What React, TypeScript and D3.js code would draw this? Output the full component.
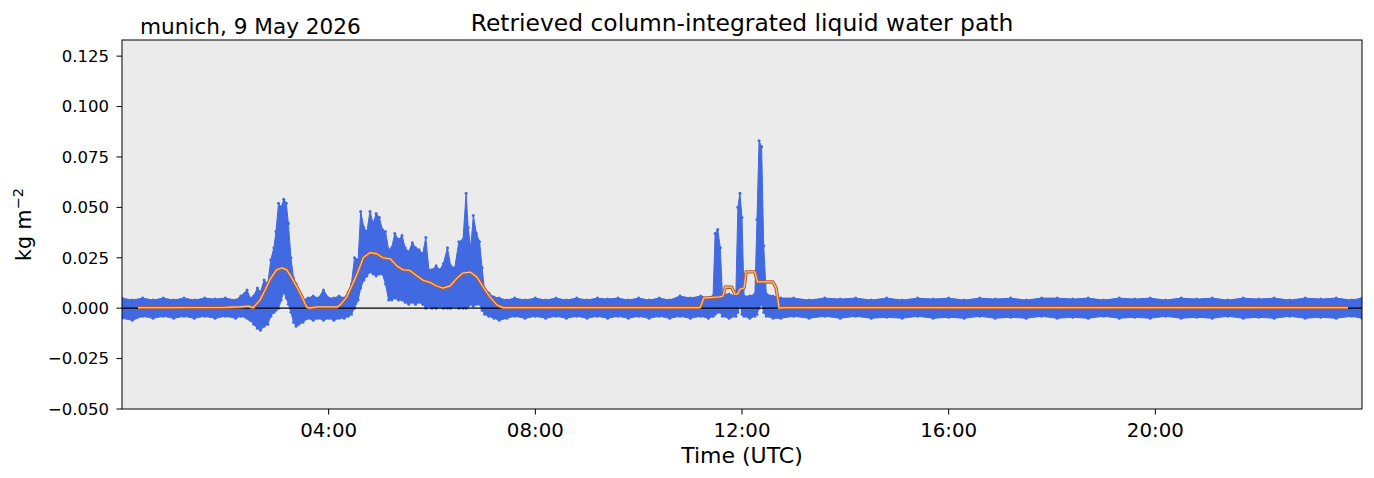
import React from 'react';
import * as d3 from 'd3';

const obsTime = [
  0.0, 0.2, 0.4, 0.6, 0.8, 1.0, 1.2, 1.4, 1.6, 1.8, 2.0, 2.2, 2.3, 2.42, 2.48, 2.55, 2.62, 2.68, 2.75, 2.82,
  2.88, 2.94, 2.98, 3.03, 3.08, 3.13, 3.18, 3.22, 3.27, 3.32, 3.37, 3.42, 3.5, 3.6, 3.7, 3.8, 3.9, 4.0, 4.1, 4.2,
  4.3, 4.38, 4.44, 4.5, 4.57, 4.62, 4.68, 4.74, 4.8, 4.86, 4.92, 4.98, 5.04, 5.1, 5.16, 5.22, 5.28, 5.35, 5.42, 5.48,
  5.55, 5.62, 5.68, 5.75, 5.82, 5.88, 5.94, 6.0, 6.08, 6.15, 6.22, 6.3, 6.36, 6.44, 6.52, 6.6, 6.66, 6.7, 6.75, 6.8,
  6.86, 6.92, 6.97, 7.02, 7.1, 7.2, 7.3, 7.45, 7.6, 7.8, 8.0, 8.2, 8.4, 8.6, 8.8, 9.0, 9.2, 9.4, 9.6, 9.8,
  10.0, 10.2, 10.4, 10.6, 10.8, 11.0, 11.2, 11.35, 11.44, 11.48, 11.53, 11.58, 11.62, 11.75, 11.88, 11.92, 11.96, 12.0, 12.04, 12.15,
  12.25, 12.29, 12.33, 12.38, 12.42, 12.47, 12.6, 12.75, 13.0, 13.3, 13.6, 13.9, 14.2, 14.5, 14.8, 15.1, 15.4, 15.7, 16.0, 16.3,
  16.6, 16.9, 17.2, 17.5, 17.8, 18.1, 18.4, 18.7, 19.0, 19.3, 19.6, 19.9, 20.2, 20.5, 20.8, 21.1, 21.4, 21.7, 22.0, 22.3,
  22.6, 22.9, 23.2, 23.5, 23.8, 24.0,
];
const obsLow = [
  -0.005, -0.006, -0.004, -0.005, -0.004, -0.005, -0.004, -0.005, -0.004, -0.005, -0.004, -0.005, -0.004, -0.005, -0.006, -0.008, -0.010, -0.011, -0.009, -0.008,
  -0.004, -0.002, -0.001, 0.0, 0.004, 0.008, 0.005, 0.002, -0.002, -0.007, -0.009, -0.008, -0.007, -0.005, -0.006, -0.005, -0.006, -0.005, -0.006, -0.005,
  -0.005, -0.004, -0.003, 0.0, 0.004, 0.010, 0.014, 0.016, 0.018, 0.017, 0.016, 0.017, 0.017, 0.012, 0.004, 0.004, 0.005, 0.004, 0.004, 0.003,
  0.002, 0.003, 0.002, 0.003, 0.002, 0.0, 0.001, 0.0, 0.0, 0.001, 0.0, 0.0, 0.0, 0.001, 0.0, 0.0, 0.0, 0.001, 0.002, 0.001,
  0.002, 0.002, -0.001, -0.003, -0.004, -0.005, -0.006, -0.005, -0.004, -0.005, -0.004, -0.005, -0.004, -0.005, -0.004, -0.005, -0.004, -0.005, -0.004, -0.005,
  -0.004, -0.005, -0.004, -0.005, -0.004, -0.005, -0.004, -0.005, -0.004, -0.003, -0.002, -0.002, -0.004, -0.005, -0.004, -0.002, 0.002, -0.003, -0.004, -0.005,
  -0.004, -0.003, 0.0, 0.002, -0.002, -0.004, -0.005, -0.005, -0.004, -0.005, -0.004, -0.005, -0.004, -0.005, -0.0045, -0.005, -0.004, -0.005, -0.0045, -0.005,
  -0.004, -0.005, -0.0045, -0.005, -0.004, -0.005, -0.0045, -0.005, -0.004, -0.005, -0.0045, -0.005, -0.004, -0.005, -0.0045, -0.005, -0.004, -0.005, -0.0045, -0.005,
  -0.004, -0.005, -0.0045, -0.005, -0.004, -0.005,
];
const obsHigh = [
  0.005, 0.004, 0.005, 0.004, 0.005, 0.004, 0.005, 0.004, 0.005, 0.0045, 0.005, 0.004, 0.006, 0.009, 0.005, 0.006, 0.010, 0.008, 0.014, 0.012,
  0.024, 0.030, 0.038, 0.052, 0.050, 0.054, 0.052, 0.042, 0.025, 0.015, 0.012, 0.006, 0.004, 0.005, 0.006, 0.005, 0.009, 0.005, 0.005, 0.006,
  0.005, 0.008, 0.012, 0.025, 0.024, 0.048, 0.040, 0.038, 0.048, 0.042, 0.047, 0.045, 0.039, 0.038, 0.029, 0.030, 0.037, 0.034, 0.036, 0.030,
  0.028, 0.0325, 0.030, 0.029, 0.027, 0.035, 0.019, 0.019, 0.021, 0.019, 0.022, 0.030, 0.021, 0.020, 0.033, 0.034, 0.057, 0.040, 0.030, 0.046,
  0.037, 0.033, 0.020, 0.008, 0.0075, 0.0055, 0.005, 0.004, 0.005, 0.004, 0.005, 0.004, 0.005, 0.004, 0.005, 0.004, 0.005, 0.0045, 0.005, 0.004,
  0.005, 0.004, 0.005, 0.004, 0.006, 0.005, 0.006, 0.005, 0.006, 0.037, 0.039, 0.030, 0.007, 0.007, 0.006, 0.050, 0.057, 0.045, 0.006, 0.006,
  0.007, 0.044, 0.083, 0.080, 0.031, 0.007, 0.006, 0.005, 0.005, 0.004, 0.005, 0.0045, 0.005, 0.004, 0.005, 0.004, 0.005, 0.0045, 0.005, 0.004,
  0.005, 0.0045, 0.005, 0.004, 0.005, 0.005, 0.0045, 0.005, 0.004, 0.005, 0.0045, 0.005, 0.004, 0.005, 0.0045, 0.005, 0.004, 0.005, 0.0045, 0.005,
  0.004, 0.005, 0.0045, 0.005, 0.004, 0.005,
];

// smoothed LWP (orange line)
const meanTime = [
  0.31, 1.0, 2.0, 2.3, 2.45, 2.54, 2.6, 2.67, 2.77, 2.86, 2.99, 3.1, 3.19, 3.31, 3.45, 3.57, 3.62, 3.77, 4.16, 4.22,
  4.35, 4.47, 4.55, 4.67, 4.8, 4.93, 5.05, 5.19, 5.32, 5.44, 5.57, 5.71, 5.83, 5.96, 6.09, 6.21, 6.35, 6.48, 6.6, 6.74,
  6.87, 6.99, 7.12, 7.26, 7.38, 11.15, 11.19, 11.26, 11.57, 11.63, 11.68, 11.8, 11.86, 11.92, 11.96, 12.04, 12.08, 12.25, 12.3, 12.6,
  12.66, 12.72, 12.8, 23.73,
];
const meanValue = [
  0.0003, 0.0003, 0.0004, 0.0007, 0.001, 0.0003, 0.002, 0.004, 0.009, 0.014, 0.019, 0.020, 0.019, 0.014, 0.0074, 0.0008, 0.0, 0.0006, 0.0006, 0.0015,
  0.0055, 0.0123, 0.017, 0.025, 0.0276, 0.027, 0.025, 0.0245, 0.021, 0.019, 0.0187, 0.016, 0.0138, 0.0128, 0.011, 0.010, 0.011, 0.0148, 0.0174, 0.0179,
  0.0154, 0.0105, 0.0056, 0.0015, 0.0003, 0.0003, 0.0004, 0.005, 0.0056, 0.006, 0.0105, 0.0104, 0.007, 0.007, 0.0095, 0.010, 0.018, 0.018, 0.013, 0.013,
  0.010, 0.0, 0.0003, 0.0003,
];

const yTicks = [-0.05, -0.025, 0, 0.025, 0.05, 0.075, 0.1, 0.125];
const xTickHours = [4, 8, 12, 16, 20];

const W = 1374;
const H = 478;
const margin = { left: 122, right: 12, top: 40, bottom: 69 };
const FONT = 'DejaVu Sans, sans-serif';

export default function App() {
  const x = d3.scaleLinear().domain([0, 24]).range([margin.left, W - margin.right]);
  const y = d3.scaleLinear().domain([-0.05, 0.133]).range([H - margin.bottom, margin.top]);

  const obs = obsTime.map((t, i) => ({ t, lo: obsLow[i], hi: obsHigh[i] }));
  const band = d3.area<{ t: number; lo: number; hi: number }>()
    .x(d => x(d.t))
    .y0(d => y(d.lo))
    .y1(d => y(d.hi));
  const meanLine = d3.line<number>()
    .x((_, i) => x(meanTime[i]))
    .y(d => y(d));

  const x0 = x(0), x1 = x(24), yTop = y(0.133), yBot = y(-0.05);
  const fmt = d3.format('.3f');
  const fmtTick = (v: number) => fmt(v).replace('-', '\u2212');
  const hhmm = (h: number) => `${String(h).padStart(2, '0')}:00`;

  return (
    <svg width={W} height={H} style={{ position: 'absolute', left: 0, top: 0, background: '#fff' }}>
      <defs>
        <clipPath id="plot">
          <rect x={x0} y={yTop} width={x1 - x0} height={yBot - yTop} />
        </clipPath>
      </defs>
      <rect x={x0} y={yTop} width={x1 - x0} height={yBot - yTop} fill="#ebebeb" />

      <g clipPath="url(#plot)">
        <path d={band(obs) || ''} fill="#4169e1" stroke="#4169e1" strokeWidth={1} />
        {obs.map((d, i) => (
          <g key={i} fill="#4169e1">
            <circle cx={x(d.t)} cy={y(d.hi)} r={1.5} />
            <circle cx={x(d.t)} cy={y(d.lo)} r={1.5} />
          </g>
        ))}
        <line x1={x0} x2={x1} y1={y(0)} y2={y(0)} stroke="#000" strokeWidth={1.2} />
        <path d={meanLine(meanValue) || ''} fill="none" stroke="#b85a28" strokeWidth={3.4} strokeLinejoin="round" />
        <path d={meanLine(meanValue) || ''} fill="none" stroke="#f6c28e" strokeWidth={1.3} strokeLinejoin="round" />
      </g>

      <rect x={x0} y={yTop} width={x1 - x0} height={yBot - yTop} fill="none" stroke="#000" strokeWidth={1} />

      {yTicks.map(v => (
        <g key={v} transform={`translate(0,${y(v)})`}>
          <line x1={x0 - 5.5} x2={x0} stroke="#000" strokeWidth={1} />
          <text x={x0 - 13} dy="0.35em" textAnchor="end" fontFamily={FONT} fontSize={16.5} fill="#000">{fmtTick(v)}</text>
        </g>
      ))}
      {xTickHours.map(h => (
        <g key={h} transform={`translate(${x(h)},0)`}>
          <line y1={yBot} y2={yBot + 5.5} stroke="#000" strokeWidth={1} />
          <text y={yBot + 28} textAnchor="middle" fontFamily={FONT} fontSize={19.8} fill="#000">{hhmm(h)}</text>
        </g>
      ))}

      <text x={(x0 + x1) / 2} y={yBot + 54} textAnchor="middle" fontFamily={FONT} fontSize={22} fill="#000">Time (UTC)</text>
      <text transform={`translate(31,${(yTop + yBot) / 2}) rotate(-90)`} textAnchor="middle" fontFamily={FONT} fontSize={20.5} fill="#000">
        kg m<tspan dy={-8} fontSize={14.5}>{'\u22122'}</tspan>
      </text>
      <text x={(x0 + x1) / 2} y={31} textAnchor="middle" fontFamily={FONT} fontSize={23.4} fill="#000">Retrieved column-integrated liquid water path</text>
      <text x={140} y={34} fontFamily={FONT} fontSize={21.6} fill="#000">munich, 9 May 2026</text>
    </svg>
  );
}
